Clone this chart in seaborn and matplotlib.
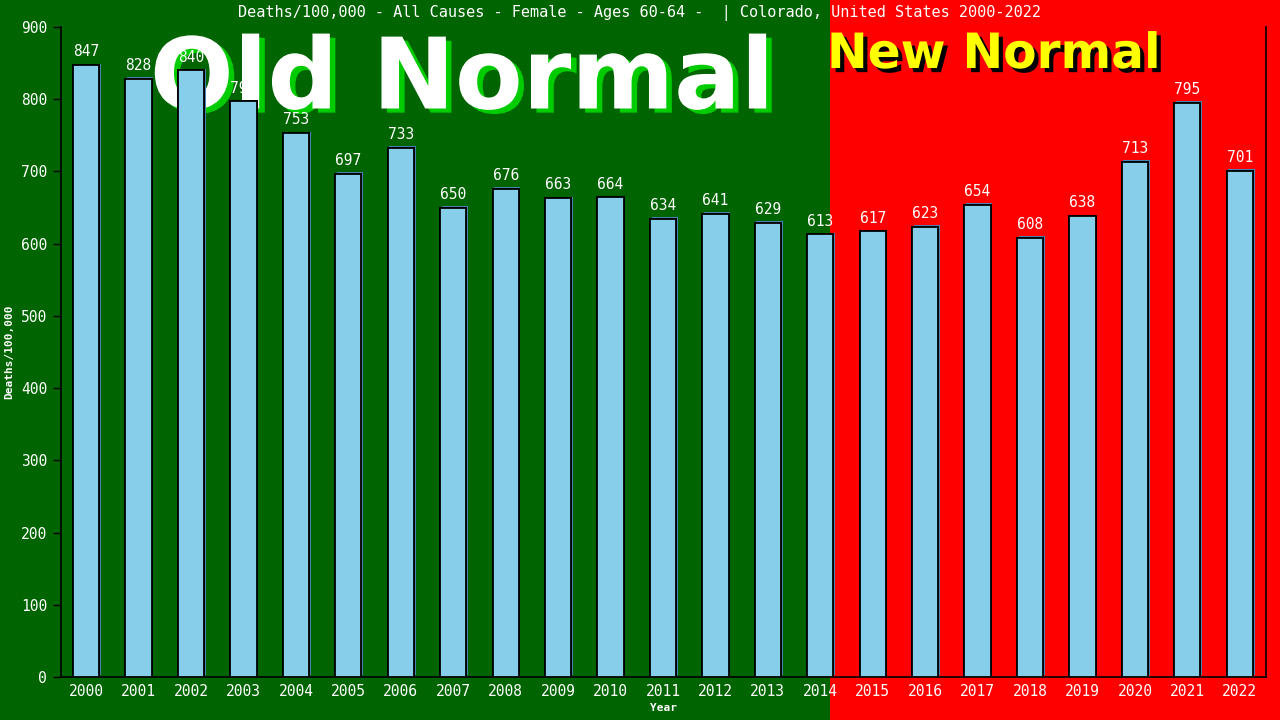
import matplotlib
matplotlib.use("Agg")
import matplotlib.pyplot as plt
import matplotlib.patheffects as pe
from matplotlib.patches import Rectangle
import seaborn as sns
import pandas as pd

years = [str(y) for y in range(2000, 2023)]
values = [847, 828, 840, 797, 753, 697, 733, 650, 676, 663, 664, 634, 641, 629,
          613, 617, 623, 654, 608, 638, 713, 795, 701]
title = "Deaths/100,000 - All Causes - Female - Ages 60-64 -  | Colorado, United States 2000-2022"
yticks = [0, 100, 200, 300, 400, 500, 600, 700, 800, 900]

df = pd.DataFrame({"Year": years, "Deaths": values})

sns.set_theme(style="white")
plt.rcParams['font.family'] = ['DejaVu Sans Mono', 'DejaVu Sans']

fig = plt.figure(figsize=(12.8, 7.2), dpi=100)
GREEN = "#006400"
RED = "#ff0000"
split = 830 / 1280
fig.patches.append(Rectangle((0, 0), split, 1, transform=fig.transFigure,
                             facecolor=GREEN, edgecolor="none", zorder=-10))
fig.patches.append(Rectangle((split, 0), 1 - split, 1, transform=fig.transFigure,
                             facecolor=RED, edgecolor="none", zorder=-10))

ax = fig.add_axes([61 / 1280, 1 - 677 / 720, (1266 - 61) / 1280, 650 / 720])
ax.set_facecolor("none")
ax.patch.set_alpha(0)

# Big background words (behind the axes)
fig.text(462 / 1280, 1 - 81 / 720, "Old Normal", fontsize=71, fontweight="bold",
         family="DejaVu Sans", color="white", ha="center", va="center", zorder=-1,
         path_effects=[pe.withSimplePatchShadow(offset=(4, -3), shadow_rgbFace="#00cc00", alpha=1)])
fig.text(994 / 1280, 1 - 54 / 720, "New Normal", fontsize=35, fontweight="bold",
         family="DejaVu Sans", color="#ffff00", ha="center", va="center", zorder=-1,
         path_effects=[pe.withSimplePatchShadow(offset=(3, -3), shadow_rgbFace="black", alpha=1)])

sns.barplot(data=df, x="Year", y="Deaths", ax=ax, color="#87ceeb", saturation=1,
            width=0.5, edgecolor="black", linewidth=1.3, zorder=3)
for p in ax.patches:
    p.set_path_effects([pe.withSimplePatchShadow(offset=(1.2, 1.2), shadow_rgbFace="#4682b4", alpha=1),
                        pe.Normal()])

for i, v in enumerate(values):
    ax.text(i, v + 8, str(v), ha="center", va="bottom", color="white", fontsize=10.5, zorder=5)

ax.set_xlim(-0.48, 22.5)
ax.set_ylim(0, 900)
ax.set_yticks(yticks)
ax.set_yticklabels([str(t) for t in yticks], color="white", fontsize=10.5)
ax.tick_params(axis="y", left=True, length=6, width=1, color="black", pad=4)
ax.tick_params(axis="x", bottom=False, length=0, pad=5)
for lab in ax.get_xticklabels():
    lab.set_color("white")
    lab.set_fontsize(10.5)

for s in ["left", "bottom", "right"]:
    ax.spines[s].set_visible(True)
    ax.spines[s].set_color("black")
    ax.spines[s].set_linewidth(1.2)
ax.spines["top"].set_visible(False)

ax.set_xlabel("Year", color="white", fontsize=8, fontweight="bold", labelpad=3)
ax.set_ylabel("Deaths/100,000", color="white", fontsize=8, fontweight="bold", labelpad=5)
fig.text(0.5, 1 - 13 / 720, title, ha="center", va="center", color="white", fontsize=11)

fig.savefig("out.png", dpi=100)
